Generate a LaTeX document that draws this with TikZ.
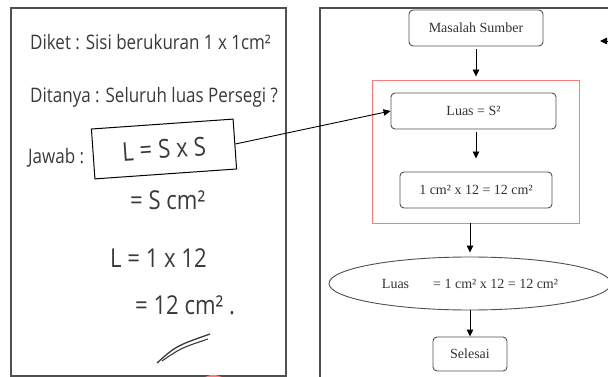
\documentclass[tikz,border=0pt]{standalone}
\usepackage{fontspec}
\setmainfont{Liberation Serif}
\newfontfamily\handfont[FakeStretch=0.85]{Open Sans}
\usetikzlibrary{shapes.geometric, arrows.meta, positioning, calc}
\definecolor{framegray}{HTML}{505050}
\definecolor{inkgray}{HTML}{3A3A3A}
\definecolor{softred}{HTML}{F67E7E}

\begin{document}
\begin{tikzpicture}[x=1pt, y=-1pt,
  hand/.style={font=\handfont\fontsize{20}{23}\selectfont, text=inkgray, anchor=west, inner sep=0pt},
  bighand/.style={hand, font=\handfont\fontsize{26}{30}\selectfont},
  flowbox/.style={rectangle, draw=framegray, rounded corners=4pt, line width=0.9pt, font=\fontsize{14}{16}\selectfont, text=black!80},
  arrow/.style={-{Triangle[length=7pt, width=6.5pt]}, line width=0.9pt},
  panel/.style={draw=framegray, line width=1.2pt}
]
  \useasboundingbox (0,0) rectangle (608,377);

  % Left panel (handwritten answer)
  \draw[panel] (11,8) rectangle (286,376);
  \node[hand] (diket) at (30,42) {Diket : Sisi berukuran 1 x 1cm²};
  \node[hand] (ditanya) at (30,97) {Ditanya : Seluruh luas Persegi ?};
  \node[hand] (jawab) at (28,158) {Jawab :};
  \node[bighand, anchor=center, draw=black, line width=1pt, inner sep=0pt, minimum width=142pt, minimum height=50pt, rotate=4] (sxs) at (164,149) {L\hspace{6pt}=\hspace{6pt}S\hspace{6pt}x\hspace{6pt}S};
  \node[bighand] (scm) at (130,200) {= S cm²};
  \node[bighand] (lval) at (110,258) {L = 1 x 12};
  \node[bighand] (result) at (135,305) {= 12 cm² .};
  \draw[inkgray, line width=1.3pt] (157,363) .. controls (176,346) .. (210,334);
  \draw[inkgray, line width=1.1pt] (162,361) .. controls (181,348) .. (208,339);
  \fill[softred] (205,377) .. controls (213,374) .. (222,377) -- cycle;

  % Right panel (flowchart)
  \draw[panel] (608,8) -- (320,8) -- (320,377);
  \node[flowbox, minimum width=134pt, minimum height=36pt] (sumber) at (476,28) {Masalah Sumber};
  \node[draw=softred, line width=0.9pt, minimum width=207pt, minimum height=143pt] (redframe) at (475.5,151.5) {};
  \node[flowbox, minimum width=165pt, minimum height=36pt] (luas) at (473.5,111) {Luas = S²};
  \node[flowbox, minimum width=152pt, minimum height=36pt] (hitung) at (476,190) {1 cm² x 12 = 12 cm²};
  \node[ellipse, draw=framegray, line width=0.9pt, minimum width=282pt, minimum height=53pt, inner sep=0pt, font=\fontsize{14}{16}\selectfont, text=black!80] (hasil) at (470,283.5) {Luas\hspace{24pt}= 1 cm² x 12 = 12 cm²};
  \node[flowbox, minimum width=74pt, minimum height=34pt] (selesai) at (470,354) {Selesai};
  \coordinate (edgein) at (616,41);
  \coordinate (edgetip) at (600,41);

  % Connections
  \draw[arrow, shorten <=3pt, shorten >=3pt] (sumber.south) -- (sumber.south |- redframe.north);
  \draw[arrow, shorten <=3pt, shorten >=13pt] (luas.south -| hitung.north) -- (hitung.north);
  \draw[arrow, shorten >=4pt] (redframe.south -| hasil.north) -- (hasil.north);
  \draw[arrow] (hasil.south) -- (selesai.north);
  \draw[arrow] (sxs.east) -- (luas.west);
  \draw[arrow] (edgein) -- (edgetip);
\end{tikzpicture}
\end{document}
